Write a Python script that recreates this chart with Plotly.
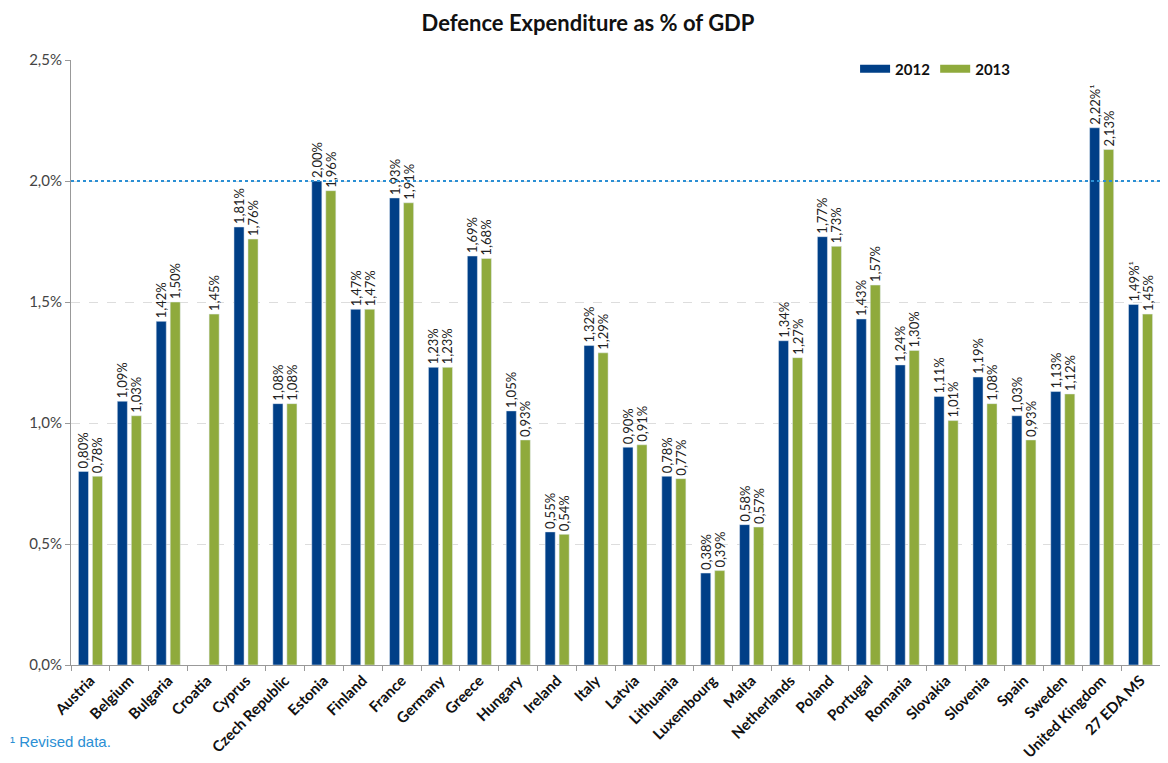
import plotly.graph_objects as go

countries = ["Austria", "Belgium", "Bulgaria", "Croatia", "Cyprus", "Czech Republic", "Estonia",
             "Finland", "France", "Germany", "Greece", "Hungary", "Ireland", "Italy", "Latvia",
             "Lithuania", "Luxembourg", "Malta", "Netherlands", "Poland", "Portugal", "Romania",
             "Slovakia", "Slovenia", "Spain", "Sweden", "United Kingdom", "27 EDA MS"]
v2012 = [0.80, 1.09, 1.42, None, 1.81, 1.08, 2.00, 1.47, 1.93, 1.23, 1.69, 1.05, 0.55, 1.32, 0.90,
         0.78, 0.38, 0.58, 1.34, 1.77, 1.43, 1.24, 1.11, 1.19, 1.03, 1.13, 2.22, 1.49]
v2013 = [0.78, 1.03, 1.50, 1.45, 1.76, 1.08, 1.96, 1.47, 1.91, 1.23, 1.68, 0.93, 0.54, 1.29, 0.91,
         0.77, 0.39, 0.57, 1.27, 1.73, 1.57, 1.30, 1.01, 1.08, 0.93, 1.12, 2.13, 1.45]
revised2012 = ["United Kingdom", "27 EDA MS"]
target = 2.0


def labels(vals, revised=()):
    out = []
    for c, v in zip(countries, vals):
        if v is None:
            out.append("")
        else:
            s = f"{v:.2f}".replace(".", ",") + "%"
            if c in revised:
                s += "¹"
            out.append(s)
    return out


def frac(vals):
    return [None if v is None else v / 100 for v in vals]


BLUE = "#003f87"
GREEN = "#8faa3c"
FONT = "Lato"

fig = go.Figure()
for name, vals, col, rev in [("2012", v2012, BLUE, revised2012), ("2013", v2013, GREEN, ())]:
    fig.add_trace(go.Bar(name=name, x=countries, y=frac(vals), marker_color=col,
                         text=labels(vals, rev), textposition="outside", textangle=-90,
                         cliponaxis=False, constraintext="none", showlegend=False,
                         textfont=dict(family=FONT, size=13, color="#222222")))
# legend entries drawn as wide colour bars
for name, col in [("2012", BLUE), ("2013", GREEN)]:
    fig.add_trace(go.Scatter(name=f"<b>{name}</b>", x=[None], y=[None], mode="lines",
                             line=dict(color=col, width=8), showlegend=True))

fig.add_shape(type="line", xref="paper", x0=0, x1=1, yref="y", y0=target / 100, y1=target / 100,
              line=dict(color="#2b8fd4", width=2, dash="dot"))

fig.add_annotation(text="¹ Revised data.", xref="paper", yref="paper", x=-0.058, y=-0.127,
                   xanchor="left", yanchor="middle", showarrow=False,
                   font=dict(family="Liberation Sans", size=15, color="#2b8fd4"))

fig.update_layout(
    width=1160, height=755,
    margin=dict(l=63, r=8, t=52, b=98),
    paper_bgcolor="white", plot_bgcolor="white",
    separators=",.",
    barmode="group", bargap=0.28, bargroupgap=0.28,
    title=dict(text="<b>Defence Expenditure as % of GDP</b>", x=0.5, xanchor="center",
               y=0.980, yanchor="middle", font=dict(family=FONT, size=22, color="#111111")),
    legend=dict(orientation="h", x=0.72, y=0.985, xanchor="left", yanchor="middle",
                font=dict(family=FONT, size=15, color="#111111"), bgcolor="rgba(0,0,0,0)",
                traceorder="normal", itemwidth=30),
    font=dict(family=FONT),
)
fig.update_yaxes(range=[0, 0.025], dtick=0.005, tickformat=".1%", automargin=False,
                 showgrid=True, gridcolor="#dddddd", griddash="dash", gridwidth=1,
                 showline=True, linecolor="#999999", linewidth=1, ticks="outside",
                 ticklen=5, tickcolor="#999999",
                 tickfont=dict(family=FONT, size=15, color="#444444"), zeroline=False)
fig.update_xaxes(showline=True, linecolor="#999999", linewidth=1, ticks="outside",
                 tickson="boundaries", ticklen=5, tickcolor="#999999", tickangle=-45,
                 automargin=False,
                 tickfont=dict(family=FONT, size=15, color="#111111"), showgrid=False)
fig.update_xaxes(tickvals=countries, ticktext=[f"<b>{c}</b>" for c in countries])

fig.write_html("out.html")
